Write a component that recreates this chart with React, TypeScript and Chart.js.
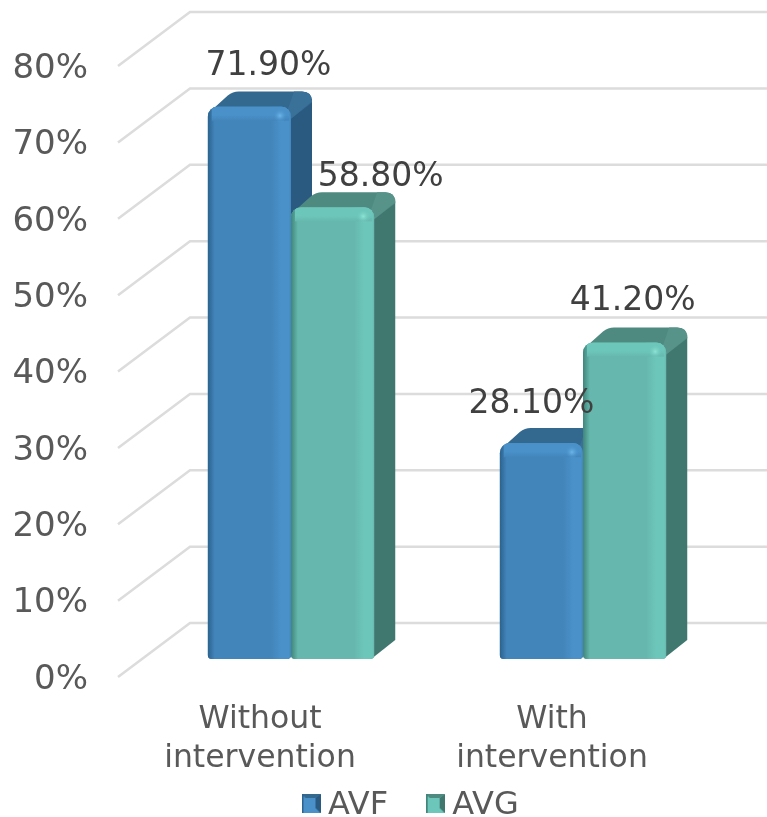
import React, { useEffect, useRef } from "react";
import { Chart, registerables } from "chart.js";

Chart.register(...registerables);

const categories = [["Without", "intervention"], ["With", "intervention"]];
const avfValues = [71.9, 28.1];
const avgValues = [58.8, 41.2];
const seriesNames = ["AVF", "AVG"];
const axisMax = 80;
const axisStep = 10;

const FONT = "'DejaVu Sans', sans-serif";
const LIFT = 3; // tick text sits 3px above its nominal pixel; the wall lines are lifted to match
const PALETTE = [
  { front: "#4285ba", light: "#4a91ca", dark: "#2b628f", top: "#33688f", topLight: "#3a7199", side: "#2b5a80", glow: "#6cb6ea" },
  { front: "#66b8ae", light: "#6dc6ba", dark: "#40857b", top: "#4f8a80", topLight: "#579389", side: "#40786f", glow: "#8de4d6" },
];
// Shift of each data label from its bar top, as placed in the reference: [series][category]
const LABEL_SHIFT = [
  [[19, -44], [-10, -41]],
  [[48, -33], [8, -44]],
];

function applyDepth(ctx: CanvasRenderingContext2D, chart: any) {
  const zero = chart.scales.y.getPixelForValue(0);
  ctx.translate(31, 659);
  ctx.scale(1, 1.0059);
  ctx.translate(0, -zero);
}

function drawBack(ctx: CanvasRenderingContext2D, meta: any, c: any) {
  for (const el of meta.data) {
    const x0 = el.x - el.width / 2;
    const x1 = el.x + el.width / 2;
    const top = el.y;
    const base = el.base;
    ctx.fillStyle = c.side;
    ctx.beginPath();
    ctx.moveTo(x1 - 4, top + 8);
    ctx.lineTo(x1 + 21, top - 8);
    ctx.lineTo(x1 + 21, base - 19);
    ctx.lineTo(x1 - 3, base);
    ctx.closePath();
    ctx.fill();
    ctx.fillStyle = c.top;
    ctx.beginPath();
    ctx.moveTo(x0 + 1, top + 6);
    ctx.lineTo(x0 + 20, top - 11);
    ctx.quadraticCurveTo(x0 + 25, top - 15, x0 + 31, top - 15);
    ctx.lineTo(x1 + 11, top - 15);
    ctx.quadraticCurveTo(x1 + 21, top - 15, x1 + 21, top - 5);
    ctx.lineTo(x1 + 21, top - 4);
    ctx.lineTo(x1, top + 12);
    ctx.lineTo(x1 - 6, top + 6);
    ctx.closePath();
    ctx.fill();
    ctx.fillStyle = c.topLight;
    ctx.beginPath();
    ctx.moveTo(x1 - 3, top + 2);
    ctx.lineTo(x1 + 3, top - 15);
    ctx.lineTo(x1 + 11, top - 15);
    ctx.quadraticCurveTo(x1 + 21, top - 15, x1 + 21, top - 5);
    ctx.lineTo(x1, top + 12);
    ctx.closePath();
    ctx.fill();
  }
}

function drawBevel(ctx: CanvasRenderingContext2D, meta: any, c: any) {
  for (const el of meta.data) {
    const x0 = el.x - el.width / 2;
    const x1 = el.x + el.width / 2;
    const top = el.y;
    const base = el.base;
    ctx.save();
    ctx.beginPath();
    (ctx as any).roundRect(x0, top, el.width, base - top, [10, 10, 4, 4]);
    ctx.clip();
    let g = ctx.createLinearGradient(x0, 0, x0 + 7, 0);
    g.addColorStop(0, c.dark);
    g.addColorStop(1, c.front);
    ctx.fillStyle = g;
    ctx.fillRect(x0, top, 7, base - top);
    g = ctx.createLinearGradient(x1 - 20, 0, x1, 0);
    g.addColorStop(0, c.front);
    g.addColorStop(0.5, c.light);
    g.addColorStop(0.9, c.light);
    g.addColorStop(1, c.front);
    ctx.fillStyle = g;
    ctx.fillRect(x1 - 20, top, 20, base - top);
    g = ctx.createLinearGradient(0, top, 0, top + 14);
    g.addColorStop(0, c.light);
    g.addColorStop(0.6, c.light);
    g.addColorStop(1, c.front);
    ctx.fillStyle = g;
    ctx.fillRect(x0 + 4, top, el.width - 6, 14);
    g = ctx.createRadialGradient(x1 - 11, top + 9, 0, x1 - 11, top + 9, 7);
    g.addColorStop(0, c.glow);
    g.addColorStop(1, c.light + "00");
    ctx.fillStyle = g;
    ctx.fillRect(x1 - 18, top + 2, 14, 14);
    ctx.restore();
  }
}

const bars3d = {
  id: "bars3d",
  // Native per-dataset painting runs last series first; here it is run first series first.
  beforeDatasetDraw() {
    return false;
  },
  beforeDatasetsDraw(chart: any) {
    const { ctx, scales } = chart;
    const y = scales.y;
    ctx.save();
    ctx.strokeStyle = "#dcdcdc";
    ctx.lineWidth = 2.5;
    for (let v = 0; v <= axisMax; v += axisStep) {
      const py = y.getPixelForValue(v) - LIFT;
      ctx.beginPath();
      ctx.moveTo(118, py);
      ctx.lineTo(190, py - 54);
      ctx.lineTo(767, py - 54);
      ctx.stroke();
    }
    ctx.restore();
    chart.data.datasets.forEach((_: any, i: number) => {
      const meta = chart.getDatasetMeta(i);
      ctx.save();
      applyDepth(ctx, chart);
      drawBack(ctx, meta, PALETTE[i]);
      meta.controller.draw();
      drawBevel(ctx, meta, PALETTE[i]);
      ctx.restore();
    });
  },
  afterDatasetsDraw(chart: any) {
    const { ctx } = chart;
    ctx.save();
    ctx.font = `33px ${FONT}`;
    ctx.fillStyle = "#404040";
    ctx.textAlign = "center";
    ctx.textBaseline = "middle";
    chart.data.datasets.forEach((ds: any, s: number) => {
      chart.getDatasetMeta(s).data.forEach((el: any, i: number) => {
        const [dx, dy] = LABEL_SHIFT[s][i];
        ctx.fillText(`${ds.data[i].toFixed(2)}%`, el.x + 31 + dx, el.y - 17 - LIFT + dy);
      });
    });
    ctx.restore();
  },
  afterLayout(chart: any) {
    const legend = chart.legend;
    if (legend) {
      legend.left = 264;
      legend.right = 767;
      legend.top = 743.5;
    }
    chart.scales.x.bottom = 790;
  },
};

function swatch(i: number) {
  const c = PALETTE[i];
  const cv = document.createElement("canvas");
  cv.width = 19;
  cv.height = 23;
  const x = cv.getContext("2d")!;
  x.fillStyle = c.light;
  x.fillRect(0, 0, 19, 19);
  x.fillStyle = c.side;
  x.beginPath();
  x.moveTo(19, 0);
  x.lineTo(19, 19);
  x.lineTo(14, 14);
  x.lineTo(14, 4);
  x.closePath();
  x.fill();
  x.fillStyle = c.top;
  x.beginPath();
  x.moveTo(0, 0);
  x.lineTo(19, 0);
  x.lineTo(14, 4);
  x.lineTo(4, 4);
  x.closePath();
  x.fill();
  x.fillStyle = c.dark;
  x.fillRect(0, 0, 2, 19);
  return cv;
}

export default function App() {
  const ref = useRef<HTMLCanvasElement>(null);
  useEffect(() => {
    document.body.style.margin = "0";
    const chart = new Chart(ref.current!, {
      type: "bar",
      data: {
        labels: categories as any,
        datasets: [
          { label: seriesNames[0], data: avfValues },
          { label: seriesNames[1], data: avgValues },
        ].map((d, i) => ({
          ...d,
          backgroundColor: PALETTE[i].front,
          borderWidth: 0,
          borderRadius: { topLeft: 10, topRight: 10, bottomLeft: 4, bottomRight: 4 },
          borderSkipped: false,
          categoryPercentage: 0.57,
          barPercentage: 1,
        })),
      },
      options: {
        responsive: false,
        animation: false,
        devicePixelRatio: 1,
        layout: { padding: { top: 66 + LIFT, right: 69, left: 0, bottom: 0 } },
        plugins: {
          tooltip: { enabled: false },
          legend: {
            position: "bottom",
            align: "start",
            labels: {
              color: "#595959",
              font: { family: FONT, size: 32 },
              usePointStyle: true,
              boxWidth: 2,
              padding: 46,
              generateLabels: (ch: any) =>
                ch.data.datasets.map((d: any, i: number) => ({
                  text: d.label,
                  fontColor: "#595959",
                  pointStyle: swatch(i),
                  datasetIndex: i,
                  lineWidth: 0,
                })),
            },
          },
        },
        scales: {
          x: {
            grid: { display: false },
            border: { display: false },
            ticks: {
              color: "#595959",
              font: { family: FONT, size: 31.5, lineHeight: 1.25 },
              maxRotation: 0,
              autoSkip: false,
              padding: 12,
            },
            afterFit: (s: any) => {
              s.height = 49;
            },
          },
          y: {
            min: 0,
            max: axisMax,
            grid: { display: false },
            border: { display: false },
            ticks: {
              stepSize: axisStep,
              color: "#595959",
              font: { family: FONT, size: 34 },
              padding: 18,
              callback: (v: any) => `${v}%`,
            },
            afterFit: (s: any) => {
              s.width = 114;
            },
          },
        },
      },
      plugins: [bars3d],
    } as any);
    return () => chart.destroy();
  }, []);
  return <canvas ref={ref} width={767} height={817} style={{ display: "block" }} />;
}
